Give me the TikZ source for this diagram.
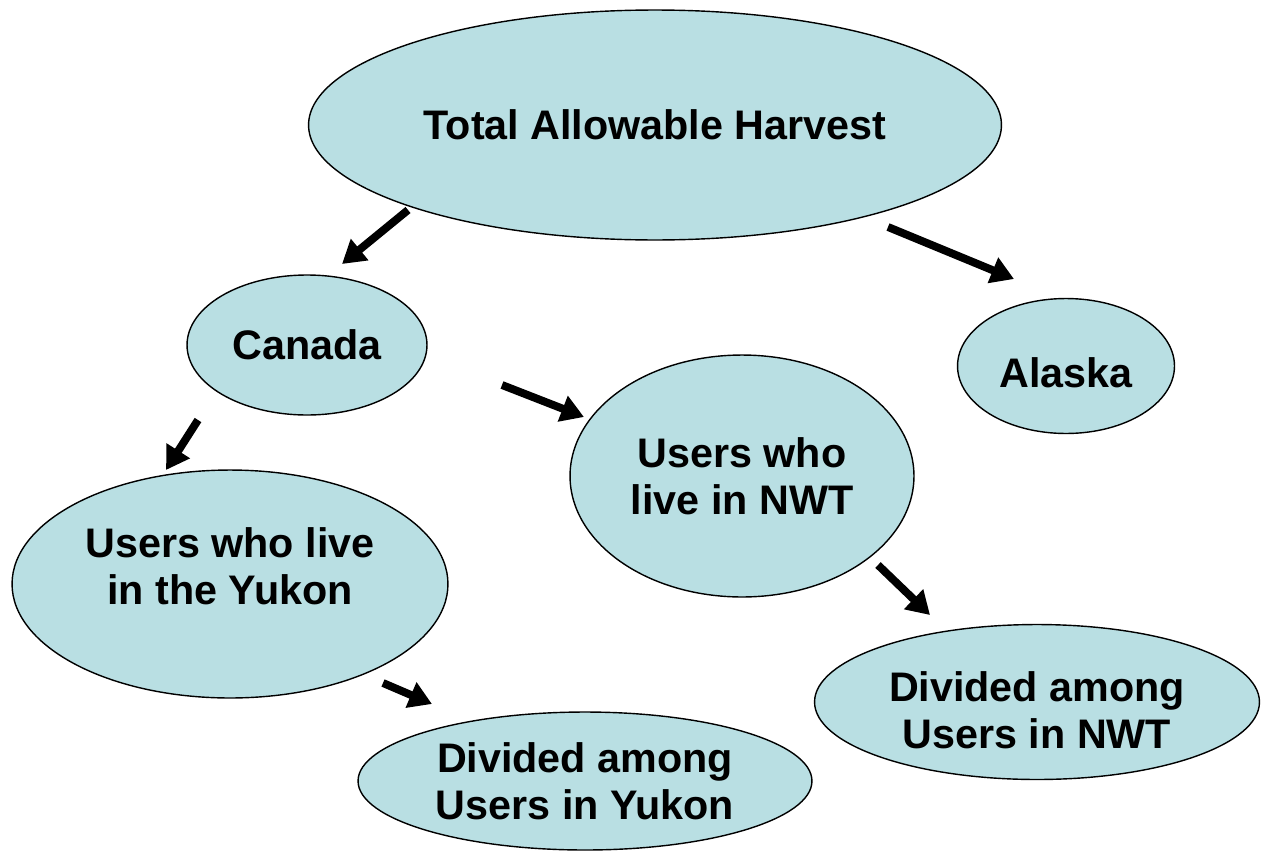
\documentclass[tikz,border=0pt]{standalone}
\usepackage{fontspec}
\setmainfont{Liberation Sans}
\usetikzlibrary{shapes.geometric,arrows.meta}
\definecolor{bubble}{HTML}{B9DFE3}
\tikzset{
    blob/.style={ellipse, draw=black, thick, fill=bubble, inner sep=0pt,
        align=center, font=\fontsize{23.5}{26.8}\selectfont\bfseries},
    blobtext/.style={align=center, inner sep=0pt, font=\fontsize{23.5}{26.8}\selectfont\bfseries},
    harvestarrow/.style={line width=4.5pt, -{Triangle[length=13pt,width=15pt]}}
}
\begin{document}
\begin{tikzpicture}[x=0.02cm, y=-0.02cm]
    \useasboundingbox (0,0) rectangle (1263,852);
    % 总量
    \node[blob, minimum width=13.86cm, minimum height=4.6cm] (tah) at (655,125) {Total Allowable Harvest};
    % 两国
    \node[blob, minimum width=4.8cm, minimum height=2.8cm] (canada) at (307,345) {Canada};
    \node[blob, minimum width=4.34cm, minimum height=2.7cm] (alaska) at (1066,366) {};
    \node[blobtext] (alaskatext) at (1066,373) {Alaska};
    % 加拿大境内的使用者
    \node[blob, minimum width=8.72cm, minimum height=4.56cm] (yukon) at (230,584) {};
    \node[blobtext] (yukontext) at (230,566) {Users who live\\in the Yukon};
    \node[blob, minimum width=6.88cm, minimum height=4.84cm] (nwt) at (742,476) {Users who\\live in NWT};
    % 分配
    \node[blob, minimum width=9.08cm, minimum height=2.76cm] (divyukon) at (585,781) {Divided among\\Users in Yukon};
    \node[blob, minimum width=8.9cm, minimum height=3.1cm] (divnwt) at (1037,702) {};
    \node[blobtext] (divnwttext) at (1037,710) {Divided among\\Users in NWT};
    % 箭头端点
    \coordinate (a1) at (408,210); \coordinate (b1) at (342,264);
    \coordinate (a2) at (888,227); \coordinate (b2) at (1014,279);
    \coordinate (a3) at (502,385); \coordinate (b3) at (584,417);
    \coordinate (a4) at (198,420); \coordinate (b4) at (166,470);
    \coordinate (a5) at (878,565); \coordinate (b5) at (930,615);
    \coordinate (a6) at (383,683); \coordinate (b6) at (432,704);
    \foreach \i in {1,...,6}
        \draw[harvestarrow] (a\i) -- (b\i);
\end{tikzpicture}
\end{document}
